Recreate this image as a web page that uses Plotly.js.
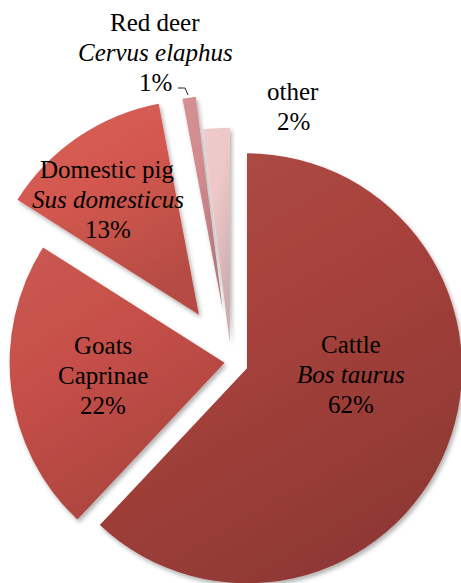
<!DOCTYPE html>
<html>
<head>
<meta charset="utf-8">
<script src="https://cdn.plot.ly/plotly-3.0.1.min.js"></script>
<style>
html,body{margin:0;padding:0;background:#fff;overflow:hidden;width:461px;height:583px;}
#chart{position:absolute;left:-41px;top:-18px;}
</style>
</head>
<body>
<div id="chart"></div>
<script>
var categories = ["Cattle", "Goats", "Domestic pig", "Red deer", "other"];
var latinNames = ["Bos taurus", "Caprinae", "Sus domesticus", "Cervus elaphus", ""];
var latinItalic = [true, false, true, true, false];
var values = [62, 22, 13, 1, 2];

// styling (not data)
var colors = ["#a8423c", "#c64f48", "#d4584f", "#d28a8e", "#eec8c9"];
var pulls = [0.08, 0.03, 0.265, 0.245, 0.09];
// label position in page pixels: [centre x, first baseline y]
var labelPx = [[351, 353], [102.5, 354], [107.5, 178], [155, 31], [293, 100]];
var LINE_GAP = 30, FONT_SIZE = 25;

var W = 544, H = 760, LEFT = -41, TOP = -18;
var FONT = '"Liberation Serif", "Times New Roman", serif';

function px2x(px){ return (px - LEFT) / W; }
function px2y(py){ return 1 - (py - TOP) / H; }

var total = values.reduce(function(a, b){ return a + b; }, 0);
var annotations = [];
categories.forEach(function(c, i){
  var lines = [c];
  var latin = latinNames[i];
  if (latin) lines.push(latinItalic[i] ? "<i>" + latin + "</i>" : latin);
  lines.push(Math.round(values[i] / total * 100) + "%");
  lines.forEach(function(t, j){
    var baseline = labelPx[i][1] + j * LINE_GAP;
    annotations.push({
      text: t,
      xref: "paper", yref: "paper",
      x: px2x(labelPx[i][0]),
      y: px2y(baseline - 0.3375 * FONT_SIZE),
      xanchor: "center", yanchor: "middle",
      showarrow: false,
      borderpad: 0,
      font: {family: FONT, size: FONT_SIZE, color: "#000"}
    });
  });
});

var trace = {
  type: "pie",
  labels: categories,
  values: values,
  textinfo: "none",
  sort: false,
  direction: "clockwise",
  rotation: 0,
  pull: pulls,
  marker: {colors: colors, line: {width: 0}},
  hoverinfo: "none",
  showlegend: false
};

var layout = {
  width: W,
  height: H,
  margin: {l: 0, r: 0, t: 0, b: 0},
  paper_bgcolor: "rgba(0,0,0,0)",
  plot_bgcolor: "rgba(0,0,0,0)",
  showlegend: false,
  font: {family: FONT},
  annotations: annotations,
  shapes: [{
    type: "path", xref: "paper", yref: "paper",
    path: "M" + px2x(178) + "," + px2y(88) +
          " L" + px2x(185) + "," + px2y(88) +
          " L" + px2x(188) + "," + px2y(95),
    line: {color: "#222", width: 1}
  }]
};

Plotly.newPlot("chart", [trace], layout, {displayModeBar: false, staticPlot: true}).then(function(gd){
  var svg = gd.querySelector("svg.main-svg");
  var ns = "http://www.w3.org/2000/svg";
  var defs = document.createElementNS(ns, "defs");
  function shade(hex, f){
    var n = parseInt(hex.slice(1), 16);
    var r = (n >> 16) & 255, g = (n >> 8) & 255, b = n & 255;
    function c(v){ return Math.max(0, Math.min(255, Math.round(f > 0 ? v + (255 - v) * f : v * (1 + f)))); }
    return "rgb(" + c(r) + "," + c(g) + "," + c(b) + ")";
  }
  colors.forEach(function(col, i){
    var lg = document.createElementNS(ns, "linearGradient");
    lg.setAttribute("id", "sg" + i);
    lg.setAttribute("x1", "0"); lg.setAttribute("y1", "0");
    lg.setAttribute("x2", "0.5"); lg.setAttribute("y2", "1");
    [[0, shade(col, 0.06)], [0.45, col], [1, shade(col, -0.14)]].forEach(function(s){
      var st = document.createElementNS(ns, "stop");
      st.setAttribute("offset", s[0]);
      st.setAttribute("stop-color", s[1]);
      lg.appendChild(st);
    });
    defs.appendChild(lg);
  });
  var filt = document.createElementNS(ns, "filter");
  filt.setAttribute("id", "shadow");
  filt.setAttribute("x", "-20%"); filt.setAttribute("y", "-20%");
  filt.setAttribute("width", "140%"); filt.setAttribute("height", "140%");
  var ds = document.createElementNS(ns, "feDropShadow");
  ds.setAttribute("dx", "2"); ds.setAttribute("dy", "3");
  ds.setAttribute("stdDeviation", "2");
  ds.setAttribute("flood-color", "#000"); ds.setAttribute("flood-opacity", "0.3");
  filt.appendChild(ds);
  defs.appendChild(filt);
  svg.insertBefore(defs, svg.firstChild);
  var paths = gd.querySelectorAll("g.slice path.surface");
  paths.forEach(function(p, i){
    p.style.fill = "url(#sg" + i + ")";
    p.setAttribute("filter", "url(#shadow)");
  });
});
</script>
</body>
</html>
